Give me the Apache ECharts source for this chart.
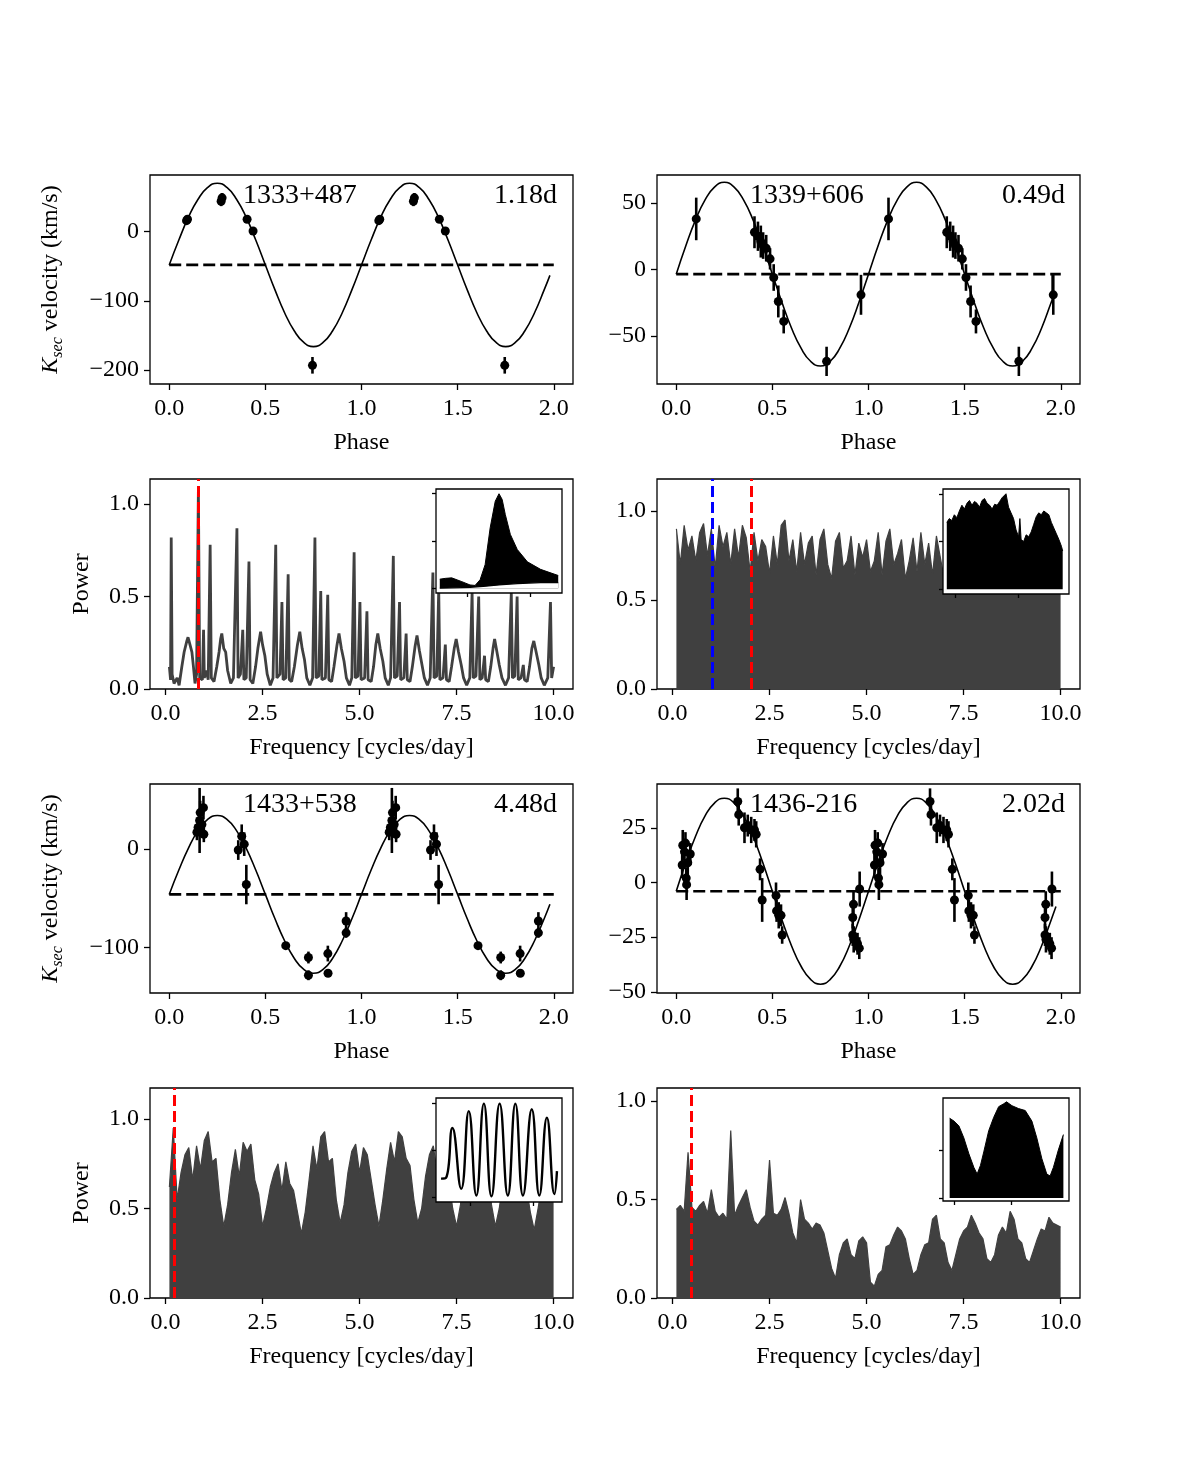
<!DOCTYPE html>
<html><head><meta charset="utf-8">
<script src="https://cdn.jsdelivr.net/npm/echarts@6/dist/echarts.min.js"></script>
<style>html,body{margin:0;padding:0;background:#fff}#c{width:1200px;height:1458px}</style>
</head><body><div id="c"></div>
<script>
// ---------------- DATA ----------------
const starNames = ['1333+487', '1339+606', '1433+538', '1436-216'];
const periodLabels = ['1.18d', '0.49d', '4.48d', '2.02d'];
const peakFreqs = [0.847, 2.04, 0.223, 0.495];
const aliasFreq = 1.02; // blue line, panel 1339+606

const phaseTicks = [0, 0.5, 1, 1.5, 2];
const freqTicks = [0, 2.5, 5, 7.5, 10];
const powerTicks = [0, 0.5, 1];
const p1Ticks = [-200, -100, 0];
const p2Ticks = [-50, 0, 50];
const p3Ticks = [-100, 0];
const p4Ticks = [-50, -25, 0, 25];

// one cycle of fit-curve sample phases
const fitPhaseCycle = [0,0.05,0.1,0.15,0.2,0.25,0.3,0.35,0.4,0.45,0.5,0.55,0.6,0.65,0.7,0.75,0.8,0.85,0.9,0.95];

// 1333+487
const p1Phase = [0.09, 0.095, 0.27, 0.275, 0.405, 0.436, 0.745];
const p1Vel   = [16, 18, 44, 49, 18, 1, -193];
const p1Err   = [3, 3, 7, 7, 3, 3, 12];
const p1Gamma = -48;
const p1Fit = [-48,-12,21,47,64,70,64,47,21,-12,-48,-84,-117,-143,-160,-166,-160,-143,-117,-84];
const p1FitEnd = [[1.98, -63]];

// 1339+606
const p2Phase = [0.104, 0.407, 0.425, 0.44, 0.452, 0.468, 0.488, 0.507, 0.531, 0.559, 0.782, 0.961];
const p2Vel   = [38, 28, 25, 21, 18, 16, 8, -6, -24, -39, -69, -19];
const p2Err   = [16, 12, 11, 12, 10, 10, 8, 10, 12, 9, 11, 15];
const p2Gamma = -3.5;
const p2Fit = [-3.5,17.8,37.1,52.3,62.1,65.5,62.1,52.3,37.1,17.8,-3.5,-24.8,-44.1,-59.3,-69.1,-72.5,-69.1,-59.3,-44.1,-24.8];
const p2FitEnd = [[1.955, -23]];
const p2Tail = [[1.955, -23], [1.955, -3.5]];

// 1433+538
const p3Phase = [0.144, 0.15, 0.158, 0.161, 0.17, 0.178, 0.18, 0.359, 0.377, 0.39, 0.401, 0.606, 0.724, 0.724, 0.825, 0.826, 0.92, 0.92];
const p3Vel   = [17, 22, 29, 37, 25, 42, 15, -1, 13, 5, -36, -98, -110, -128, -106, -126, -73, -85];
const p3Err   = [8, 6, 33, 12, 8, 12, 8, 10, 12, 12, 20, 3, 6, 5, 8, 3, 9, 5];
const p3Gamma = -46;
const p3Fit = [-46,-21.3,1,18.7,30.1,34,30.1,18.7,1,-21.3,-46,-70.7,-93,-110.7,-122.1,-126,-122.1,-110.7,-93,-70.7];
const p3FitEnd = [[1.98, -56]];

// 1436-216
const p4Phase = [0.031, 0.034, 0.043, 0.048, 0.052, 0.054, 0.06, 0.073, 0.32, 0.325, 0.355, 0.372, 0.39, 0.407, 0.416, 0.436, 0.447, 0.519, 0.522, 0.533, 0.545, 0.551, 0.918, 0.922, 0.918, 0.923, 0.943, 0.952, 0.954];
const p4Vel   = [8, 17, 14, 18, 2, -1, 9, 13, 37, 31, 25, 26, 24, 24, 22, 6, -8, -6, -13, -15, -15, -24, -16, -10, -24, -26, -28, -30, -3];
const p4Err   = [6, 7, 6, 5, 5, 7, 6, 5, 6, 5, 7, 5, 6, 5, 6, 5, 10, 6, 5, 6, 5, 4, 5, 6, 5, 6, 5, 5, 8];
const p4Gamma = -4;
const p4Fit = [-4,9.1,21,30.4,36.4,38.5,36.4,30.4,21,9.1,-4,-17.1,-29,-38.4,-44.4,-46.5,-44.4,-38.4,-29,-17.1];
const p4FitEnd = [[1.975, -11]];

// Periodogram 1333+487 (line) : [frequency, power]
const pg1Data = [[0.10,0.12],[0.13,0.05],[0.147,0.82],[0.17,0.08],[0.22,0.03],[0.3,0.06],[0.35,0.02],[0.42,0.12],[0.48,0.20],[0.55,0.26],[0.58,0.28],[0.63,0.24],[0.68,0.20],[0.72,0.12],[0.76,0.03],[0.8,0.08],[0.847,1.08],[0.88,0.06],[0.95,0.05],[0.98,0.32],[1.0,0.06],[1.05,0.1],[1.1,0.05],[1.15,0.78],[1.18,0.06],[1.25,0.04],[1.32,0.12],[1.38,0.2],[1.42,0.27],[1.45,0.30],[1.5,0.22],[1.55,0.2],[1.6,0.1],[1.68,0.03],[1.75,0.06],[1.84,0.87],[1.87,0.06],[1.93,0.08],[1.99,0.32],[2.02,0.05],[2.08,0.06],[2.15,0.69],[2.18,0.05],[2.25,0.03],[2.32,0.12],[2.38,0.22],[2.45,0.31],[2.5,0.24],[2.56,0.18],[2.62,0.08],[2.7,0.02],[2.77,0.06],[2.84,0.78],[2.87,0.06],[2.95,0.08],[3.0,0.47],[3.03,0.05],[3.1,0.06],[3.16,0.62],[3.19,0.05],[3.25,0.04],[3.32,0.12],[3.4,0.24],[3.46,0.31],[3.52,0.22],[3.58,0.16],[3.64,0.06],[3.72,0.02],[3.79,0.06],[3.85,0.82],[3.88,0.06],[3.95,0.07],[4.0,0.53],[4.03,0.05],[4.12,0.06],[4.18,0.51],[4.21,0.05],[4.28,0.04],[4.34,0.12],[4.42,0.24],[4.47,0.30],[4.53,0.22],[4.6,0.15],[4.66,0.06],[4.74,0.02],[4.8,0.06],[4.86,0.74],[4.89,0.06],[4.96,0.07],[5.01,0.47],[5.04,0.05],[5.13,0.06],[5.19,0.42],[5.22,0.05],[5.3,0.04],[5.36,0.12],[5.42,0.24],[5.47,0.30],[5.53,0.22],[5.6,0.15],[5.66,0.06],[5.74,0.02],[5.8,0.06],[5.87,0.72],[5.9,0.06],[5.97,0.07],[6.03,0.47],[6.06,0.05],[6.14,0.06],[6.2,0.30],[6.23,0.05],[6.3,0.04],[6.36,0.12],[6.43,0.23],[6.48,0.29],[6.54,0.21],[6.6,0.14],[6.67,0.06],[6.75,0.02],[6.82,0.06],[6.89,0.63],[6.92,0.06],[6.99,0.07],[7.04,0.54],[7.07,0.05],[7.15,0.06],[7.21,0.24],[7.24,0.05],[7.31,0.04],[7.37,0.12],[7.44,0.22],[7.49,0.27],[7.55,0.2],[7.62,0.13],[7.68,0.06],[7.76,0.02],[7.84,0.06],[7.9,0.52],[7.93,0.06],[8.0,0.07],[8.07,0.50],[8.1,0.05],[8.16,0.06],[8.22,0.18],[8.25,0.05],[8.32,0.04],[8.38,0.12],[8.44,0.22],[8.48,0.27],[8.54,0.2],[8.6,0.13],[8.67,0.06],[8.76,0.02],[8.84,0.06],[8.91,0.52],[8.94,0.06],[9.0,0.07],[9.06,0.50],[9.09,0.05],[9.16,0.06],[9.22,0.13],[9.25,0.05],[9.32,0.04],[9.38,0.12],[9.44,0.22],[9.49,0.26],[9.55,0.2],[9.62,0.13],[9.68,0.06],[9.76,0.02],[9.85,0.06],[9.92,0.47],[9.95,0.06],[10.0,0.12]];

// Dense periodograms: upper envelope sampled every 0.1 c/d from 0.1 to 10.0
const pgFreqStart = 0.1, pgFreqStep = 0.1;
const pg2Power = [.90,.70,.92,.78,.86,.72,.88,.93,.75,.90,.68,.92,.80,.88,.70,.90,.74,.92,.85,.66,.88,.72,.84,.80,.65,.86,.70,.92,.95,.72,.84,.66,.88,.70,.82,.86,.64,.84,.90,.70,.62,.83,.88,.68,.72,.86,.64,.82,.74,.84,.66,.72,.88,.64,.83,.90,.70,.76,.84,.62,.72,.85,.66,.88,.70,.82,.64,.86,.74,.62,.84,.88,.66,.82,.70,.60,.78,.58,.74,.80,.62,.85,.87,.66,.60,.80,.64,.58,.82,.66,.84,.68,.87,.72,.62,.82,.66,.60,.78,.62];
const pg3Power = [.62,.95,.55,.70,.80,.84,.66,.85,.72,.88,.93,.76,.78,.55,.40,.52,.70,.83,.68,.87,.82,.86,.66,.58,.40,.50,.62,.70,.75,.60,.76,.64,.60,.48,.36,.48,.66,.85,.72,.90,.93,.76,.78,.55,.42,.52,.70,.82,.86,.70,.84,.80,.66,.52,.40,.55,.72,.87,.76,.93,.90,.78,.74,.55,.42,.50,.68,.80,.85,.70,.84,.74,.66,.50,.40,.52,.70,.85,.74,.90,.86,.76,.70,.52,.40,.50,.66,.78,.84,.70,.80,.70,.62,.48,.38,.50,.64,.78,.66,.66];
const pg4Power = [.45,.47,.44,.74,.46,.44,.47,.49,.43,.55,.44,.41,.43,.40,.85,.42,.47,.51,.55,.46,.39,.37,.40,.42,.70,.43,.42,.45,.51,.43,.33,.28,.50,.40,.38,.35,.38,.37,.33,.24,.15,.10,.22,.28,.30,.22,.20,.29,.31,.28,.08,.06,.12,.14,.26,.27,.32,.36,.34,.30,.20,.12,.14,.22,.27,.28,.40,.42,.30,.28,.18,.14,.22,.30,.34,.36,.42,.38,.33,.30,.20,.18,.22,.32,.36,.33,.44,.40,.30,.28,.20,.18,.24,.30,.35,.34,.41,.38,.37,.36];

// Insets (zoom around the adopted peak): [frequency, power]
const inset1Upper = [[0.756,0.096],[0.765,0.105],[0.775,0.11],[0.791,0.07],[0.804,0.035],[0.812,0.03],[0.820,0.09],[0.828,0.25],[0.836,0.64],[0.844,0.92],[0.850,1.0],[0.855,0.94],[0.860,0.78],[0.868,0.57],[0.879,0.41],[0.895,0.28],[0.916,0.2],[0.944,0.135]];
const inset1Lower = [[0.756,0.0],[0.804,0.01],[0.825,0.02],[0.850,0.035],[0.879,0.05],[0.916,0.06],[0.944,0.06]];
const inset2Upper = [[1.993,.70],[1.995,.74],[1.997,.72],[1.999,.78],[2.001,.75],[2.003,.82],[2.005,.88],[2.007,.84],[2.009,.90],[2.011,.93],[2.013,.88],[2.015,.92],[2.017,.90],[2.019,.86],[2.021,.93],[2.023,.95],[2.025,.90],[2.027,.88],[2.029,.84],[2.031,.89],[2.033,.88],[2.035,.92],[2.037,.96],[2.040,1.0],[2.042,.86],[2.044,.80],[2.046,.74],[2.048,.62],[2.050,.55],[2.051,.74],[2.052,.52],[2.054,.50],[2.056,.57],[2.058,.55],[2.060,.60],[2.062,.68],[2.064,.76],[2.066,.80],[2.068,.78],[2.070,.82],[2.072,.80],[2.074,.78],[2.076,.70],[2.078,.64],[2.080,.58],[2.082,.52],[2.084,.45],[2.085,.40]];
const inset3Line = [[0.177,0.2],[0.181,0.21],[0.186,0.74],[0.193,0.09],[0.199,0.92],[0.205,0.02],[0.211,1.0],[0.217,0.01],[0.2235,1.0],[0.230,0.02],[0.236,1.0],[0.242,0.02],[0.249,0.94],[0.255,0.02],[0.261,0.85],[0.267,0.035],[0.269,0.28]];
const inset4Upper = [[0.4458,.83],[0.4496,.80],[0.4539,.75],[0.4582,.625],[0.4626,.46],[0.4669,.32],[0.4698,.25],[0.4727,.34],[0.4756,.48],[0.4799,.70],[0.4843,.84],[0.4886,.95],[0.4930,.98],[0.4955,1.0],[0.5002,.96],[0.5060,.93],[0.5118,.91],[0.5176,.80],[0.5219,.625],[0.5263,.41],[0.5306,.25],[0.5335,.23],[0.5364,.32],[0.5407,.5],[0.5451,.66]];
const insetRanges = [[0.75, 0.95], [1.99, 2.09], [0.173, 0.273], [0.44, 0.55]];
const insetXTicks = [[0.8, 0.9], [2.0, 2.05], [0.2, 0.25], [0.45, 0.5]];
const insetYTicks = [[0, 0.5, 1], [0, 0.5, 1], [0, 0.5, 1], [0, 0.5]];

// ---------------- LAYOUT / STYLE ----------------
const FONT = "'Liberation Serif', 'Times New Roman', serif";
const mainGrids = [
  [150,175,423,209],[657,175,423,209],
  [150,479,423,210],[657,479,423,210],
  [150,784,423,209],[657,784,423,209],
  [150,1088,423,210],[657,1088,423,210]
];
const insetGrids = [[436,489,126,104],[943,489,126,105],[436,1098,126,104],[943,1098,126,103]];

const option = {animation:false, backgroundColor:'#fff', grid:[], xAxis:[], yAxis:[], series:[], graphic:[]};

function addGrid(r, inset){
  option.grid.push({left:r[0], top:r[1], width:r[2], height:r[3], show:true, borderColor:'#000', borderWidth:1.3,
    backgroundColor: inset ? '#fff' : 'rgba(0,0,0,0)', z: inset ? 10 : 0, containLabel:false, outerBoundsMode:'none'});
  return option.grid.length - 1;
}
function axis(gi, min, max, ticks, fmt, o){
  o = o || {};
  const a = {gridIndex:gi, type:'value', min:min, max:max, z:o.z||0,
    axisLine:{show:false, onZero:false},
    axisTick:{show:true, inside:false, length:o.tickLen||6, lineStyle:{color:'#000', width:1.3}, customValues:ticks},
    axisLabel:{show:!o.noLabel, customValues:ticks, formatter:fmt, color:'#000', fontSize:24, fontFamily:FONT, margin:o.margin||11},
    splitLine:{show:false}};
  if (o.name){
    a.name = o.name; a.nameLocation = 'middle'; a.nameGap = o.nameGap;
    a.nameTextStyle = Object.assign({color:'#000', fontSize:24, fontFamily:FONT}, o.nameStyle||{});
  }
  return a;
}
const fmt1 = v => v.toFixed(1);
const velFmt = v => (v < 0 ? '\u2212' + Math.abs(v) : String(v));
const ksecName = '{k|K}{s|sec}{t| velocity (km/s)}';
const ksecStyle = {rich:{
  k:{fontStyle:'italic', fontSize:24, fontFamily:FONT, color:'#000', lineHeight:30, verticalAlign:'middle'},
  s:{fontStyle:'italic', fontSize:16, fontFamily:FONT, color:'#000', lineHeight:16, verticalAlign:'bottom'},
  t:{fontSize:24, fontFamily:FONT, color:'#000', lineHeight:30, verticalAlign:'middle'}}};

function errRender(params, api){
  const x = api.value(0), y = api.value(1), e = api.value(2);
  const a = api.coord([x, y - e]), b = api.coord([x, y + e]);
  return {type:'line', shape:{x1:a[0], y1:a[1], x2:b[0], y2:b[1]}, style:{stroke:'#000', lineWidth:2.6}};
}

function phasePanel(gridIdx, yr, yTicks, leftCol, ph, vel, err, gamma, fit, fitEnd){
  const gi = addGrid(mainGrids[gridIdx], false);
  option.xAxis.push(axis(gi, -0.1, 2.1, phaseTicks, fmt1, {name:'Phase', nameGap:47, margin:13}));
  const yo = leftCol ? {name:ksecName, nameGap:84, nameStyle:ksecStyle} : {};
  option.yAxis.push(axis(gi, yr[0], yr[1], yTicks, velFmt, yo));
  const ai = option.xAxis.length - 1;
  const pts = ph.map((p, i) => [p, vel[i], err[i]]);
  const pts2 = pts.concat(pts.map(d => [d[0] + 1, d[1], d[2]]));
  const fitData = fitPhaseCycle.map((p, i) => [p, fit[i]])
    .concat(fitPhaseCycle.map((p, i) => [p + 1, fit[i]])).concat(fitEnd);
  option.series.push({type:'line', xAxisIndex:ai, yAxisIndex:ai, data:fitData, smooth:true, showSymbol:false, silent:true,
    lineStyle:{color:'#000', width:1.6}});
  option.series.push({type:'line', xAxisIndex:ai, yAxisIndex:ai, data:[[0, gamma], [2, gamma]], showSymbol:false, silent:true,
    lineStyle:{color:'#000', width:2.7, type:[12,5]}});
  option.series.push({type:'custom', xAxisIndex:ai, yAxisIndex:ai, data:pts2, renderItem:errRender, encode:{x:0, y:1}, silent:true});
  option.series.push({type:'scatter', xAxisIndex:ai, yAxisIndex:ai, data:pts2.map(d => [d[0], d[1]]), symbolSize:9,
    itemStyle:{color:'#000', opacity:1}, silent:true});
  return ai;
}
function redLines(list){
  return {silent:true, symbol:['none','none'], label:{show:false}, animation:false,
    lineStyle:{color:'#ff0000', type:[11,5], width:3, opacity:1},
    data:list};
}
function pgPanel(gridIdx, ymax, leftCol){
  const gi = addGrid(mainGrids[gridIdx], false);
  option.xAxis.push(axis(gi, -0.4, 10.5, freqTicks, fmt1, {name:'Frequency [cycles/day]', nameGap:47, margin:13}));
  const yo = leftCol ? {name:'Power', nameGap:56} : {};
  option.yAxis.push(axis(gi, 0, ymax, powerTicks, fmt1, yo));
  return option.xAxis.length - 1;
}
function denseSeries(ai, power, markList){
  const data = power.map((p, i) => [+(pgFreqStart + pgFreqStep * i).toFixed(2), p]);
  option.series.push({type:'line', xAxisIndex:ai, yAxisIndex:ai, data:data, showSymbol:false, silent:true,
    lineStyle:{color:'#404040', width:1.2}, areaStyle:{color:'#404040', opacity:1},
    markLine:redLines(markList)});
}
function insetPanel(k, yr){
  const gi = addGrid(insetGrids[k], true);
  option.xAxis.push(axis(gi, insetRanges[k][0], insetRanges[k][1], insetXTicks[k], fmt1, {noLabel:true, tickLen:4, z:11}));
  option.yAxis.push(axis(gi, yr[0], yr[1], insetYTicks[k], fmt1, {noLabel:true, tickLen:4, z:11}));
  return option.xAxis.length - 1;
}

// Row 1
phasePanel(0, [-220, 82], p1Ticks, true, p1Phase, p1Vel, p1Err, p1Gamma, p1Fit, p1FitEnd);
const a2 = phasePanel(1, [-86, 71], p2Ticks, false, p2Phase, p2Vel, p2Err, p2Gamma, p2Fit, p2FitEnd);
option.series.push({type:'line', xAxisIndex:a2, yAxisIndex:a2, data:p2Tail, showSymbol:false, silent:true, lineStyle:{color:'#000', width:1.6}});

// Row 2
const g3 = pgPanel(2, 1.136, true);
option.series.push({type:'line', xAxisIndex:g3, yAxisIndex:g3, data:pg1Data, showSymbol:false, silent:true,
  lineStyle:{color:'#404040', width:2.8}, markLine:redLines([{xAxis:peakFreqs[0]}])});
const g4 = pgPanel(3, 1.18, false);
denseSeries(g4, pg2Power, [{xAxis:aliasFreq, lineStyle:{color:'#0000ff', type:[11,5], width:3}}, {xAxis:peakFreqs[1]}]);

// Row 3
phasePanel(4, [-146, 66], p3Ticks, true, p3Phase, p3Vel, p3Err, p3Gamma, p3Fit, p3FitEnd);
phasePanel(5, [-50.5, 45], p4Ticks, false, p4Phase, p4Vel, p4Err, p4Gamma, p4Fit, p4FitEnd);

// Row 4
const g7 = pgPanel(6, 1.173, true);
denseSeries(g7, pg3Power, [{xAxis:peakFreqs[2]}]);
const g8 = pgPanel(7, 1.066, false);
denseSeries(g8, pg4Power, [{xAxis:peakFreqs[3]}]);

// Insets
const i1 = insetPanel(0, [-0.05, 1.05]);
option.series.push({type:'line', xAxisIndex:i1, yAxisIndex:i1, z:12, data:inset1Upper, showSymbol:false, silent:true,
  lineStyle:{color:'#000', width:1}, areaStyle:{color:'#000', opacity:1}});
option.series.push({type:'line', xAxisIndex:i1, yAxisIndex:i1, z:13, data:inset1Lower, showSymbol:false, silent:true,
  lineStyle:{color:'#000', width:1.2}, areaStyle:{color:'#fff', opacity:1}, markLine:redLines([{xAxis:peakFreqs[0]}])});
const i2 = insetPanel(1, [-0.05, 1.05]);
option.series.push({type:'line', xAxisIndex:i2, yAxisIndex:i2, z:12, data:inset2Upper, showSymbol:false, silent:true,
  lineStyle:{color:'#000', width:1}, areaStyle:{color:'#000', opacity:1}, markLine:redLines([{xAxis:peakFreqs[1]}])});
const i3 = insetPanel(2, [-0.05, 1.06]);
option.series.push({type:'line', xAxisIndex:i3, yAxisIndex:i3, z:12, data:inset3Line, smooth:true, showSymbol:false, silent:true,
  lineStyle:{color:'#000', width:2.4}, markLine:redLines([{xAxis:peakFreqs[2]}])});
const i4 = insetPanel(3, [-0.03, 1.04]);
option.series.push({type:'line', xAxisIndex:i4, yAxisIndex:i4, z:12, data:inset4Upper, showSymbol:false, silent:true,
  lineStyle:{color:'#000', width:1}, areaStyle:{color:'#000', opacity:1}, markLine:redLines([{xAxis:peakFreqs[3]}])});

// Annotations
const annPos = [[243, 557, 196], [750, 1065, 196], [243, 557, 805], [750, 1065, 805]];
starNames.forEach((n, i) => {
  option.graphic.push({type:'text', x:annPos[i][0], y:annPos[i][2], z:50,
    style:{text:n, font:"28px 'Liberation Serif', serif", fill:'#000', align:'left', verticalAlign:'middle'}});
  option.graphic.push({type:'text', x:annPos[i][1], y:annPos[i][2], z:50,
    style:{text:periodLabels[i], font:"28px 'Liberation Serif', serif", fill:'#000', align:'right', verticalAlign:'middle'}});
});

const chart = echarts.init(document.getElementById('c'), null, {renderer:'canvas'});
chart.setOption(option);
</script></body></html>
